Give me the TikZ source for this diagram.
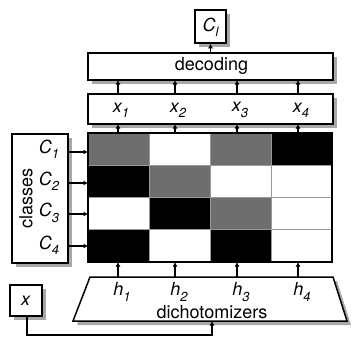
\documentclass[tikz,border=0pt]{standalone}
\usepackage{fontspec}
\setmainfont{TeX Gyre Heros}
\usetikzlibrary{arrows.meta}
\definecolor{cellgray}{HTML}{6E6E6E}
\definecolor{shadowgray}{HTML}{A8A8A8}
\definecolor{gridgray}{HTML}{9A9A9A}
\newcommand{\itsub}[2]{\textit{#1\raisebox{-0.3em}{\fontsize{13}{14}\selectfont #2}}}
\tikzset{
  box/.style={draw=black, line width=1.5pt, fill=white, inner sep=0pt},
  arr/.style={line width=1.5pt, -{Latex[length=4.5pt,width=5pt]}},
  lbl/.style={font=\fontsize{18}{20}\selectfont, inner sep=0pt},
}
\begin{document}
\begin{tikzpicture}[x=1pt,y=-1pt]
\useasboundingbox (0,0) rectangle (352,338);
% shadows
\fill[shadowgray] (199,14) rectangle (230,47);
\fill[shadowgray] (92,57) rectangle (337,84);
\fill[shadowgray] (92,98) rectangle (337,128);
\fill[shadowgray] (16,138) rectangle (72,267);
\fill[shadowgray] (14,289) rectangle (46,320);
% C_l box
\node[box, minimum width=31pt, minimum height=33pt] (cl) at (210.5,26.5) {};
\node[lbl] (cltext) at (210.5,27) {\itsub{C}{l}};
% decoding
\node[box, minimum width=245pt, minimum height=27pt] (dec) at (210.5,66.5) {};
\node[lbl] (dectext) at (211.5,66) {decoding};
% x box
\node[box, minimum width=245pt, minimum height=30pt] (xb) at (210.5,109) {};
\node[lbl] (x1) at (121,110) {\itsub{x}{1}};
\node[lbl] (x2) at (178,110) {\itsub{x}{2}};
\node[lbl] (x3) at (240,110) {\itsub{x}{3}};
\node[lbl] (x4) at (301,110) {\itsub{x}{4}};
% matrix
\def\cw{61}\def\rh{32.25}
\foreach \r/\row in {0/{cellgray,white,cellgray,black},1/{black,cellgray,white,white},2/{white,black,cellgray,white},3/{black,white,black,white}}{
  \foreach \c [count=\ci from 0] in \row {
    \fill[\c] (88+\ci*\cw,133+\r*\rh) rectangle (88+\ci*\cw+\cw,133+\r*\rh+\rh);
  }
}
\foreach \i in {1,2,3}{
  \draw[gridgray, line width=0.6pt] (88+\i*\cw,133) -- (88+\i*\cw,262);
  \draw[gridgray, line width=0.6pt] (88,133+\i*\rh) -- (332,133+\i*\rh);
}
\node[draw=black, line width=1.5pt, minimum width=244pt, minimum height=129pt, inner sep=0pt] (mat) at (210,197.5) {};
% classes box
\node[box, minimum width=56pt, minimum height=129pt] (cls) at (40,198.5) {};
\node[lbl, rotate=90] (clstext) at (26,198.5) {classes};
\node[lbl] (c1) at (49,149) {\itsub{C}{1}};
\node[lbl] (c2) at (49,181) {\itsub{C}{2}};
\node[lbl] (c3) at (49,213) {\itsub{C}{3}};
\node[lbl] (c4) at (49,245) {\itsub{C}{4}};
\foreach \y in {152,183,214,246}{
  \draw[arr] (68,\y) -- (88,\y);
}
% dichotomizers trapezoid
\coordinate (t1) at (90,277);
\coordinate (t2) at (333,277);
\coordinate (t3) at (347,321);
\coordinate (t4) at (73,321);
\fill[shadowgray] (94,281) -- (337,281) -- (351,325) -- (77,325) -- cycle;
\draw[line width=1.5pt, fill=white] (t1) -- (t2) -- (t3) -- (t4) -- cycle;
\node[lbl] (h1) at (122,292) {\itsub{h}{1}};
\node[lbl] (h2) at (179,292) {\itsub{h}{2}};
\node[lbl] (h3) at (241,292) {\itsub{h}{3}};
\node[lbl] (h4) at (302,292) {\itsub{h}{4}};
\node[lbl] (dich) at (212,312.5) {dichotomizers};
% x input
\node[box, minimum width=32pt, minimum height=31pt] (xin) at (26,300.5) {};
\node[lbl] (xtext) at (26,301) {\textit{x}};
% arrows
\draw[arr] (dec.north -| cl) -- (cl.south);
\foreach \xx in {118,175,237,298}{
  \draw[arr] (\xx,94) -- (\xx,80);
  \draw[arr] (\xx,133) -- (\xx,124);
  \draw[arr] (\xx,277) -- (\xx,262);
}
\coordinate (turn1) at (27,335);
\coordinate (turn2) at (212,335);
\draw[arr] (xin.south -| turn1) -- (turn1) -- (turn2) -- (212,321);
\end{tikzpicture}
\end{document}
